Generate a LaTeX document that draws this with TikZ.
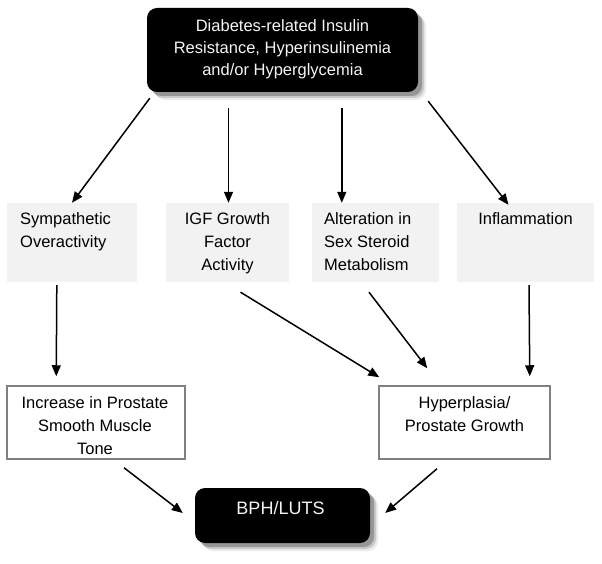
\documentclass[tikz,border=0pt]{standalone}
\usepackage{fontspec}
\setmainfont{Liberation Sans}
\usetikzlibrary{arrows.meta,calc,shadows}
\definecolor{boxgray}{HTML}{F2F2F2}
\definecolor{edgegray}{HTML}{808080}
\definecolor{lighttext}{HTML}{F4F4F4}
\begin{document}
\begin{tikzpicture}[x=1pt,y=-1pt,
  blackbox/.style={fill=black, rounded corners=10pt, inner sep=0pt,
    drop shadow={shadow xshift=8pt, shadow yshift=-8pt, fill=black, opacity=0.08},
    drop shadow={shadow xshift=6pt, shadow yshift=-6pt, fill=black, opacity=0.15},
    drop shadow={shadow xshift=4pt, shadow yshift=-4pt, fill=black, opacity=0.25}},
  graybox/.style={fill=boxgray, draw=none, inner sep=0pt, minimum height=79pt},
  whitebox/.style={fill=white, draw=edgegray, line width=1.5pt, inner sep=0pt, minimum height=73pt},
  txt/.style={inner sep=0pt, font=\fontsize{16.5}{23}\selectfont},
  wtxt/.style={inner sep=0pt, text=lighttext, font=\fontsize{16.5}{22}\selectfont, align=center},
  arr/.style={line width=1.5pt, -{Triangle[length=11pt,width=9pt]}}
]
\useasboundingbox (0,0) rectangle (602,564);

% top box
\node[blackbox, minimum width=271pt, minimum height=84pt] (top) at (282.5,50) {};
\node[wtxt] (ttop) at (282.5,49) {Diabetes-related Insulin\\Resistance, Hyperinsulinemia\\and/or Hyperglycemia};

% gray boxes
\node[graybox, minimum width=130pt] (g1) at (72,242.5) {};
\node[graybox, minimum width=123pt] (g2) at (227.5,242.5) {};
\node[graybox, minimum width=127pt] (g3) at (375.5,242.5) {};
\node[graybox, minimum width=137pt] (g4) at (525.5,242.5) {};
\node[txt, anchor=north west, align=left] (t1) at (20,212) {Sympathetic\\Overactivity};
\node[txt, anchor=north, align=center] (t2) at (227.5,212) {IGF Growth\\Factor\\Activity};
\node[txt, anchor=north west, align=left] (t3) at (324,212) {Alteration in\\Sex Steroid\\Metabolism};
\node[txt, anchor=north, align=center] (t4) at (525.5,212) {Inflammation};

% white boxes
\node[whitebox, minimum width=178pt] (b1) at (96,422.5) {};
\node[whitebox, minimum width=171pt] (b2) at (464.5,422.5) {};
\node[txt, anchor=north, align=center] (tb1) at (95,396) {Increase in Prostate\\Smooth Muscle\\Tone};
\node[txt, anchor=north, align=center] (tb2) at (464.5,396) {Hyperplasia/\\Prostate Growth};

% bottom box
\node[blackbox, minimum width=175pt, minimum height=55pt] (bph) at (282.5,515.5) {};
\node[inner sep=0pt, anchor=north, text=lighttext, font=\fontsize{18}{22}\selectfont] (tbph) at (280.5,501) {BPH/LUTS};

% arrows
\draw[arr] ($(top.south west)+(3,6)$) -- (g1.north);
\draw[arr] ($(top.south -| g2.north)+(1,16)$) -- ($(g2.north)+(1,0)$);
\draw[arr] ($(top.south -| g3.north west)+(30,16)$) -- ($(g3.north west)+(30,0)$);
\draw[arr] ($(top.south east)+(10,9)$) -- ($(g4.north)+(-17,2)$);
\draw[arr] ($(g1.south west)+(50,3)$) -- ($(b1.north west)+(50,-9)$);
\draw[arr] ($(g4.south)+(3.5,3)$) -- ($(b2.north east)+(-21,-9)$);
\draw[arr] ($(g2.south)+(13,10)$) -- ($(b2.north west)+(1,-8)$);
\draw[arr] ($(g3.south)+(-6.5,10)$) -- ($(b2.north west)+(49,-17)$);
\draw[arr] ($(b1.south)+(28,8)$) -- ($(bph.west)+(-12,-2.5)$);
\draw[arr] ($(b2.south)+(-27.5,9)$) -- ($(bph.east)+(15,-2.5)$);
\end{tikzpicture}
\end{document}
